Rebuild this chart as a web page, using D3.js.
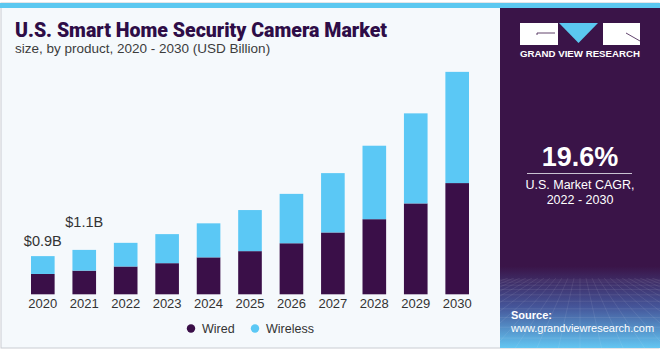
<!DOCTYPE html>
<html>
<head>
<meta charset="utf-8">
<script src="https://cdn.jsdelivr.net/npm/d3@7"></script>
<style>
  body { margin: 0; background: #ffffff; }
  text { font-family: "Liberation Sans", Arial, sans-serif; }
</style>
</head>
<body>
<div id="wrapper"></div>
<script>
// DATA (USD Billion)
const years = ["2020", "2021", "2022", "2023", "2024", "2025", "2026", "2027", "2028", "2029", "2030"]
const wired = [0.49, 0.57, 0.67, 0.75, 0.89, 1.04, 1.23, 1.49, 1.81, 2.19, 2.68]
const wireless = [0.43, 0.50, 0.57, 0.70, 0.82, 0.99, 1.19, 1.43, 1.77, 2.17, 2.68]
const labelYears = ["2020", "2021"]
const labelTexts = ["$0.9B", "$1.1B"]
const seriesNames = ["Wired", "Wireless"]
const colors = { Wired: "#3a0f48", Wireless: "#5bc8f5" }

const W = 660, H = 350

const svg = d3.select("#wrapper").append("svg")
  .attr("width", W).attr("height", H)

// background + frame
svg.append("rect").attr("x", 0).attr("y", 0).attr("width", W).attr("height", H).attr("fill", "#ffffff")
svg.append("rect").attr("x", 1).attr("y", 3).attr("width", W - 2).attr("height", 345)
  .attr("fill", "#f5f9fc").attr("stroke", "#c9ccd2").attr("stroke-width", 1)
svg.append("rect").attr("x", 0).attr("y", 3).attr("width", W).attr("height", 5).attr("fill", "#5bc8f0")

// TITLE
svg.append("text").attr("x", 15).attr("y", 37)
  .attr("textLength", 372).attr("lengthAdjust", "spacingAndGlyphs")
  .style("font-family", "Roboto, 'DejaVu Sans', sans-serif")
  .style("font-weight", 900).style("font-size", "20px").attr("fill", "#2e0d47")
  .text("U.S. Smart Home Security Camera Market")
svg.append("text").attr("x", 15).attr("y", 53)
  .style("font-size", "13.5px").attr("fill", "#3c3c3c")
  .text("size, by product, 2020 - 2030 (USD Billion)")

// SCALES
const table = years.map((y, i) => ({ year: y, Wired: wired[i], Wireless: wireless[i] }))
const stacked = d3.stack().keys(seriesNames)(table)

const x = d3.scaleBand().domain(years).range([31, 469]).paddingInner(0.43).paddingOuter(0)
const y = d3.scaleLinear().domain([0, 1]).range([294.3, 294.3 - 41.5])

const bars = svg.append("g")
stacked.forEach(layer => {
  bars.append("g").attr("fill", colors[layer.key])
    .selectAll("rect").data(layer).join("rect")
    .attr("x", d => x(d.data.year))
    .attr("width", x.bandwidth())
    .attr("y", d => y(d[1]))
    .attr("height", d => y(d[0]) - y(d[1]))
})

// x axis labels
svg.append("g").selectAll("text").data(years).join("text")
  .attr("x", d => x(d) + x.bandwidth() / 2)
  .attr("y", 307.5)
  .attr("text-anchor", "middle")
  .style("font-size", "13px").attr("fill", "#333333")
  .text(d => d)

// value labels, lifted above the bar tops (second one sits higher, like the original)
const labelLift = [10, 23]
svg.append("g").selectAll("text").data(labelYears).join("text")
  .attr("x", d => x(d) + x.bandwidth() / 2)
  .attr("y", (d, i) => {
    const j = years.indexOf(d)
    return y(wired[j] + wireless[j]) - labelLift[i]
  })
  .attr("text-anchor", "middle")
  .style("font-size", "14.5px").attr("fill", "#333333")
  .text((d, i) => labelTexts[i])

// LEGEND
const legend = svg.append("g")
const legendX = [191, 255]
seriesNames.forEach((name, i) => {
  legend.append("circle").attr("cx", legendX[i]).attr("cy", 328.5).attr("r", 4.2).attr("fill", colors[name])
  legend.append("text").attr("x", legendX[i] + 11).attr("y", 333)
    .style("font-size", "12.5px").attr("fill", "#333333").text(name)
})

// RIGHT PANEL
const panel = svg.append("g")
const defs = svg.append("defs")
const grad = defs.append("linearGradient").attr("id", "panelGrad")
  .attr("x1", 0).attr("y1", 0).attr("x2", 0).attr("y2", 1)
grad.append("stop").attr("offset", "0%").attr("stop-color", "#3a1448")
grad.append("stop").attr("offset", "76%").attr("stop-color", "#3a1448")
grad.append("stop").attr("offset", "88%").attr("stop-color", "#45569a")
grad.append("stop").attr("offset", "100%").attr("stop-color", "#63c6f2")

panel.append("rect").attr("x", 500).attr("y", 8).attr("width", 160).attr("height", 340)
  .attr("fill", "url(#panelGrad)")

// faint perspective grid at the bottom of the panel
defs.append("clipPath").attr("id", "gridClip")
  .append("rect").attr("x", 500).attr("y", 278).attr("width", 160).attr("height", 70)
const grid = panel.append("g").attr("clip-path", "url(#gridClip)")
  .attr("stroke", "#ffffff").attr("stroke-opacity", 0.12).attr("stroke-width", 0.7).attr("fill", "none")
d3.range(-12, 13).forEach(k => {
  grid.append("line").attr("x1", 580 + k * 6).attr("y1", 278).attr("x2", 580 + k * 22).attr("y2", 350)
})
d3.range(0, 12).forEach(k => {
  const yy = 280 + k * k * 0.55 + k * 1.5
  grid.append("line").attr("x1", 500).attr("y1", yy).attr("x2", 660).attr("y2", yy)
})

// logo
const logo = panel.append("g")
logo.append("rect").attr("x", 520).attr("y", 23).attr("width", 38).attr("height", 22).attr("fill", "#ffffff")
logo.append("rect").attr("x", 603).attr("y", 23).attr("width", 37).attr("height", 22).attr("fill", "#ffffff")
logo.append("path").attr("d", "M559,23 L598,23 L578.5,43 Z").attr("fill", "#5bc8f0")
logo.append("path").attr("d", "M537,35 L537,33 L555,33").attr("stroke", "#3a1448").attr("stroke-width", 0.8).attr("fill", "none")
logo.append("path").attr("d", "M626,33 L640,41").attr("stroke", "#3a1448").attr("stroke-width", 0.8).attr("fill", "none")
panel.append("text").attr("x", 580).attr("y", 56.5).attr("text-anchor", "middle")
  .attr("textLength", 120).attr("lengthAdjust", "spacingAndGlyphs")
  .style("font-size", "8.5px").style("font-weight", "bold").attr("fill", "#ffffff")
  .text("GRAND VIEW RESEARCH")

// CAGR
panel.append("text").attr("x", 580).attr("y", 166).attr("text-anchor", "middle")
  .style("font-size", "27px").style("font-weight", "bold").attr("fill", "#ffffff")
  .text("19.6%")
panel.append("line").attr("x1", 527).attr("x2", 632).attr("y1", 173.5).attr("y2", 173.5)
  .attr("stroke", "#c9c2d2").attr("stroke-width", 1)
panel.append("text").attr("x", 580).attr("y", 189).attr("text-anchor", "middle")
  .style("font-size", "12.5px").attr("fill", "#ffffff").text("U.S. Market CAGR,")
panel.append("text").attr("x", 580).attr("y", 204).attr("text-anchor", "middle")
  .style("font-size", "12.5px").attr("fill", "#ffffff").text("2022 - 2030")

// source
panel.append("text").attr("x", 511).attr("y", 319)
  .style("font-size", "11px").style("font-weight", "bold").attr("fill", "#ffffff").text("Source:")
panel.append("text").attr("x", 511).attr("y", 332)
  .style("font-size", "11px").attr("fill", "#ffffff").text("www.grandviewresearch.com")
</script>
</body>
</html>
